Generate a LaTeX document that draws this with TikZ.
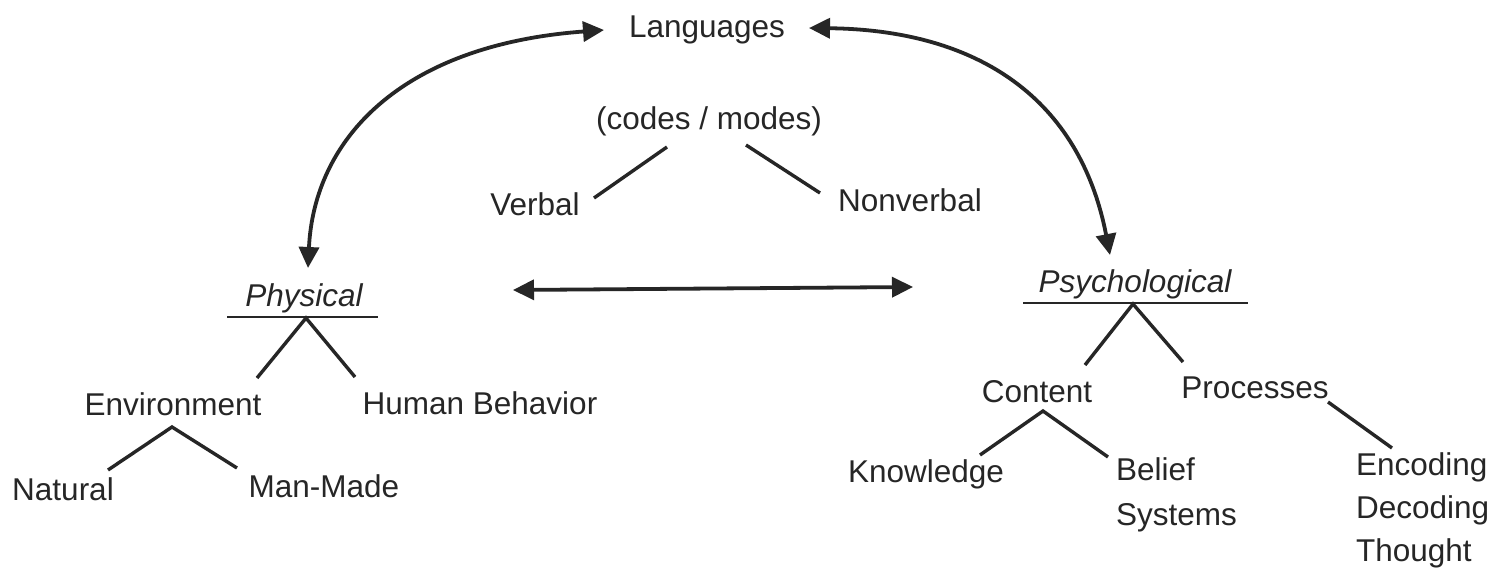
\documentclass[tikz,border=0pt]{standalone}
\usepackage{fontspec}
\setmainfont{Liberation Sans}
\usetikzlibrary{arrows.meta}
\definecolor{ink}{HTML}{262626}
\tikzset{
  lbl/.style={inner sep=0pt, outer sep=0pt, text=ink, font=\fontsize{31.5}{43}\selectfont},
  ital/.style={lbl, font=\fontsize{31.5}{43}\selectfont\itshape},
  twig/.style={draw=ink, line width=3.4pt},
  uline/.style={draw=ink, line width=2.6pt},
  arr/.style={draw=ink, line width=3.8pt, {Triangle[length=21pt,width=20pt]}-{Triangle[length=21pt,width=20pt]}},
}
\begin{document}
\begin{tikzpicture}[x=1pt,y=-1pt]
\useasboundingbox (0,0) rectangle (1504,570);
\fill[white] (0,0) rectangle (1504,570);
% nodes
\node[lbl, anchor=base] (lang) at (707,37) {Languages};
\node[lbl, anchor=base] (codes) at (709,129) {(codes / modes)};
\node[lbl, anchor=base] (verbal) at (535,215) {Verbal};
\node[lbl, anchor=base] (nonverbal) at (910,211) {Nonverbal};
\node[ital, anchor=base] (phys) at (304,306) {Physical};
\node[ital, anchor=base] (psych) at (1135,292) {Psychological};
\node[lbl, anchor=base] (env) at (173,415) {Environment};
\node[lbl, anchor=base] (human) at (480,414) {Human Behavior};
\node[lbl, anchor=base] (natural) at (63,500) {Natural};
\node[lbl, anchor=base] (manmade) at (324,497) {Man-Made};
\node[lbl, anchor=base] (content) at (1037,402) {Content};
\node[lbl, anchor=base] (processes) at (1255,398) {Processes};
\node[lbl, anchor=base] (knowledge) at (926,482) {Knowledge};
\node[lbl, anchor=base west, align=left] (belief) at (1116,525) {Belief\\[2pt]Systems};
\node[lbl, anchor=base west, align=left] (encode) at (1356,561) {Encoding\\Decoding\\Thought};
% coordinates for branch points
\coordinate (codesL) at (667,147);
\coordinate (codesR) at (746,145);
\coordinate (verbalE) at (594,198);
\coordinate (nonverbalE) at (820,193);
\coordinate (physUL) at (227,317);
\coordinate (physUR) at (378,317);
\coordinate (physA) at (306,318);
\coordinate (envE) at (257,378);
\coordinate (humanE) at (355,377);
\coordinate (envA) at (172,427);
\coordinate (naturalE) at (108,470);
\coordinate (manmadeE) at (237,468);
\coordinate (psychUL) at (1023,303);
\coordinate (psychUR) at (1248,303);
\coordinate (psychA) at (1133,304);
\coordinate (contentE) at (1085,365);
\coordinate (processesE) at (1183,362);
\coordinate (contentA) at (1043,411);
\coordinate (knowledgeE) at (980,455);
\coordinate (beliefE) at (1108,457);
\coordinate (processesS) at (1328,402);
\coordinate (encodeE) at (1392,448);
\coordinate (langL) at (604,30);
\coordinate (langR) at (809,28);
\coordinate (physT) at (308,268);
\coordinate (psychT) at (1110,255);
\coordinate (midL) at (513,290);
\coordinate (midR) at (913,287);
% tree lines
\draw[twig] (codesL) -- (verbalE);
\draw[twig] (codesR) -- (nonverbalE);
\draw[uline] (physUL) -- (physUR);
\draw[twig] (envE) -- (physA) -- (humanE);
\draw[twig] (naturalE) -- (envA) -- (manmadeE);
\draw[uline] (psychUL) -- (psychUR);
\draw[twig] (contentE) -- (psychA) -- (processesE);
\draw[twig] (knowledgeE) -- (contentA) -- (beliefE);
\draw[twig] (processesS) -- (encodeE);
% arrows
\draw[arr] (physT) .. controls (314,140) and (400,45) .. (langL);
\draw[arr] (langR) .. controls (980,30) and (1080,100) .. (psychT);
\draw[arr] (midL) -- (midR);
\end{tikzpicture}
\end{document}
